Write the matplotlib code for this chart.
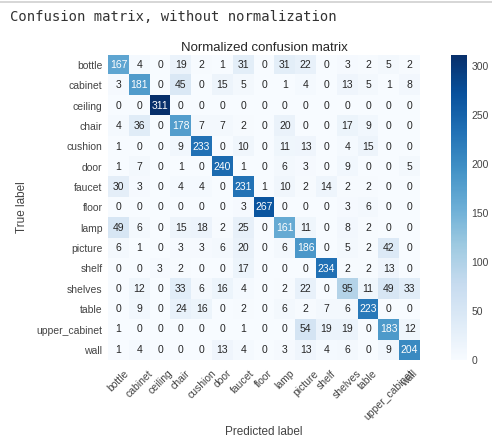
import numpy as np
import matplotlib
matplotlib.use("Agg")
import matplotlib.pyplot as plt
from matplotlib.lines import Line2D

classes = ["bottle", "cabinet", "ceiling", "chair", "cushion", "door", "faucet",
           "floor", "lamp", "picture", "shelf", "shelves", "table",
           "upper_cabinet", "wall"]

row_bottle        = [167, 4, 0, 19, 2, 1, 31, 0, 31, 22, 0, 3, 2, 5, 2]
row_cabinet       = [3, 181, 0, 45, 0, 15, 5, 0, 1, 4, 0, 13, 5, 1, 8]
row_ceiling       = [0, 0, 311, 0, 0, 0, 0, 0, 0, 0, 0, 0, 0, 0, 0]
row_chair         = [4, 36, 0, 178, 7, 7, 2, 0, 20, 0, 0, 17, 9, 0, 0]
row_cushion       = [1, 0, 0, 9, 233, 0, 10, 0, 11, 13, 0, 4, 15, 0, 0]
row_door          = [1, 7, 0, 1, 0, 240, 1, 0, 6, 3, 0, 9, 0, 0, 5]
row_faucet        = [30, 3, 0, 4, 4, 0, 231, 1, 10, 2, 14, 2, 2, 0, 0]
row_floor         = [0, 0, 0, 0, 0, 0, 3, 267, 0, 0, 0, 3, 6, 0, 0]
row_lamp          = [49, 6, 0, 15, 18, 2, 25, 0, 161, 11, 0, 8, 2, 0, 0]
row_picture       = [6, 1, 0, 3, 3, 6, 20, 0, 6, 186, 0, 5, 2, 42, 0]
row_shelf         = [0, 0, 3, 2, 0, 0, 17, 0, 0, 0, 234, 2, 2, 13, 0]
row_shelves       = [0, 12, 0, 33, 6, 16, 4, 0, 2, 22, 0, 95, 11, 49, 33]
row_table         = [0, 9, 0, 24, 16, 0, 2, 0, 6, 2, 7, 6, 223, 0, 0]
row_upper_cabinet = [1, 0, 0, 0, 0, 0, 1, 0, 0, 54, 19, 19, 0, 183, 12]
row_wall          = [1, 4, 0, 0, 0, 13, 4, 0, 3, 13, 4, 6, 0, 9, 204]

cm = np.array([row_bottle, row_cabinet, row_ceiling, row_chair, row_cushion,
               row_door, row_faucet, row_floor, row_lamp, row_picture,
               row_shelf, row_shelves, row_table, row_upper_cabinet, row_wall])

W, H = 492, 438
fig = plt.figure(figsize=(W / 100, H / 100), dpi=100)
fig.patch.set_facecolor("white")

sans = ["Liberation Sans", "DejaVu Sans"]
label_color = "#444444"

# notebook output line above the figure
fig.add_artist(Line2D([0, 1], [1 - 1.5 / H, 1 - 1.5 / H], color="#d0d0d0", lw=1.2))
fig.text(10 / W, 1 - 17 / H, "Confusion matrix, without normalization",
         family="DejaVu Sans Mono", fontsize=10, color="#333333", va="center")

ax = fig.add_axes([108 / W, 1 - 360 / H, 312 / W, 305 / H])
im = ax.imshow(cm, interpolation="nearest", cmap="Blues", aspect="auto",
               vmin=0, vmax=cm.max())
ax.set_title("Normalized confusion matrix", family=sans, fontsize=9.5,
             color="#262626", pad=3)

ticks = np.arange(len(classes))
ax.set_xticks(ticks)
ax.set_xticklabels(classes, rotation=45, family=sans, fontsize=7.5, color=label_color)
ax.set_yticks(ticks)
ax.set_yticklabels(classes, family=sans, fontsize=7.5, color=label_color)
ax.tick_params(length=0, pad=4)
ax.tick_params(axis="x", pad=6)
for s in ax.spines.values():
    s.set_visible(False)

thresh = cm.max() / 2.0
for i in range(cm.shape[0]):
    for j in range(cm.shape[1]):
        ax.text(j, i, str(cm[i, j]), ha="center", va="center",
                family=sans, fontsize=7.5,
                color="white" if cm[i, j] > thresh else "#262626")

ax.set_ylabel("True label", family=sans, fontsize=8.5, color=label_color, labelpad=6)
# x-axis title sits between the rotated tick labels, not below the longest one
fig.text(0.5 * (108 + 420) / W, 1 - 432 / H, "Predicted label", family=sans,
         fontsize=8.5, color=label_color, ha="center", va="center")

cax = fig.add_axes([451 / W, 1 - 360 / H, 16 / W, 305 / H])
cb = fig.colorbar(im, cax=cax)
cb.outline.set_visible(False)
cb.set_ticks([0, 50, 100, 150, 200, 250, 300])
cax.tick_params(length=0, pad=3, labelsize=7.5, labelcolor=label_color)
for t in cax.get_yticklabels():
    t.set_family(sans)

fig.savefig("out.png", dpi=100)
